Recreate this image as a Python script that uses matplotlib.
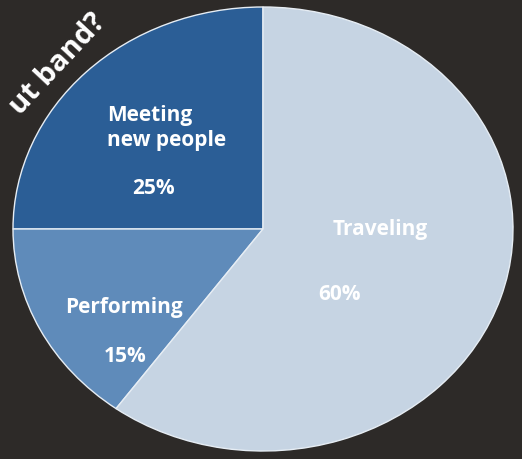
import matplotlib.pyplot as plt

# Pie data
labels = ['Meeting\nnew people', 'Performing', 'Traveling']
shares = [25, 15, 60]
colors = ['#2b5e96', '#5f8bba', '#c6d4e3']
bg = '#2d2a28'

fig = plt.figure(figsize=(5.22, 4.6), dpi=100, facecolor=bg)
ax = fig.add_axes([0, 0, 1, 1])
ax.set_facecolor(bg)

ax.pie(shares, colors=colors, startangle=90, counterclock=True,
       wedgeprops=dict(edgecolor='#e6edf4', linewidth=1))
ax.set_aspect('auto')
ax.set_xlim(-1.052, 1.036)
ax.set_ylim(-1.036, 1.036)
ax.axis('off')

txt = dict(color='white', fontweight='bold', fontsize=15,
           family='Open Sans', va='center', transform=ax.transAxes)

# labels (positions in axes fraction)
ax.text(107 / 522, 1 - 128 / 460, labels[0], linespacing=1.2, ha='left', **txt)
ax.text(153 / 522, 1 - 188 / 460, f'{shares[0]}%', ha='center', **txt)
ax.text(124 / 522, 1 - 307 / 460, labels[1], ha='center', **txt)
ax.text(125 / 522, 1 - 357 / 460, f'{shares[1]}%', ha='center', **txt)
ax.text(380 / 522, 1 - 230 / 460, labels[2], ha='center', **txt)
ax.text(340 / 522, 1 - 295 / 460, f'{shares[2]}%', ha='center', **txt)

# cropped heading
ax.text(58 / 522, 1 - 64 / 460, 'ut band?', color='white', fontweight='bold',
        fontsize=21, family='Open Sans', rotation=47, ha='center', va='center',
        transform=ax.transAxes)

fig.savefig('out.png', dpi=100, facecolor=bg)
